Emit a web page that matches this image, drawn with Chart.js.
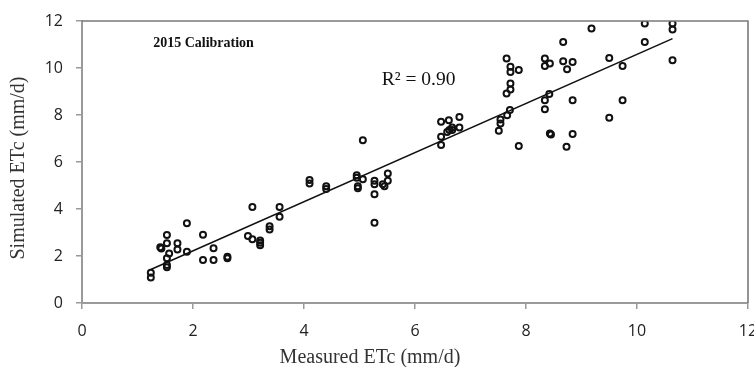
<!DOCTYPE html>
<html>
<head>
<meta charset="utf-8">
<script src="https://cdn.jsdelivr.net/npm/chart.js@4"></script>
<style>
  html, body { margin: 0; padding: 0; background: #fff; }
  #wrap { width: 754px; height: 367px; }
</style>
</head>
<body>
<div id="wrap"><canvas id="etc" width="754" height="367"></canvas></div>
<script>
// measured vs simulated ETc (mm/d)
var measured = [1.24,1.24,1.41,1.43,1.53,1.53,1.57,1.53,1.53,1.53,1.72,1.72,1.89,1.89,2.18,2.18,2.37,2.37,2.62,2.62,
  2.99,3.07,3.07,3.21,3.21,3.21,3.38,3.38,3.56,3.56,4.10,4.10,4.40,4.40,4.95,4.95,4.97,4.97,5.06,5.06,
  5.27,5.27,5.27,5.27,5.42,5.45,5.51,5.51,6.47,6.61,6.80,6.47,6.47,6.62,6.67,6.67,6.58,6.80,7.51,7.54,
  7.54,7.66,7.71,7.65,7.72,7.72,7.65,7.72,7.72,7.87,7.87,8.34,8.34,8.43,8.67,8.84,8.74,8.67,9.18,9.50,
  9.74,8.42,8.34,8.34,8.84,9.74,9.50,8.43,8.45,8.84,8.73,10.14,10.64,10.64,10.14,10.64];
var simulated = [1.29,1.09,2.37,2.32,2.89,2.54,2.11,1.90,1.62,1.52,2.54,2.28,3.39,2.18,2.90,1.83,2.33,1.83,1.97,1.90,
  2.85,2.71,4.09,2.66,2.56,2.46,3.27,3.13,4.09,3.67,5.23,5.09,4.97,4.85,5.44,5.33,4.97,4.88,6.93,5.27,
  5.20,5.05,4.63,3.41,5.05,4.97,5.51,5.20,7.71,7.78,7.92,7.07,6.72,7.36,7.47,7.36,7.28,7.47,7.33,7.64,
  7.81,7.99,8.21,8.92,9.09,9.34,10.40,10.05,9.83,9.91,6.68,10.40,10.09,10.19,10.29,10.26,9.95,11.11,11.68,10.43,
  10.09,8.89,8.63,8.25,8.63,8.63,7.88,7.21,7.17,7.19,6.65,11.89,11.89,11.64,11.11,10.33];
// trend line end points
var fitX = [1.24, 10.64];
var fitY = [1.43, 11.25];
var axisTicks = [0, 2, 4, 6, 8, 10, 12];

var points = measured.map(function(m, i) { return {x: m, y: simulated[i]}; });
var fitLine = fitX.map(function(v, i) { return {x: v, y: fitY[i]}; });

// frame + labels drawn on top of the chart
var extras = {
  id: 'extras',
  afterDraw: function(chart) {
    var c = chart.ctx, a = chart.chartArea, sx = chart.scales.x, sy = chart.scales.y;
    c.save();
    c.strokeStyle = '#7a7a7a';
    c.lineWidth = 1.6;
    c.beginPath();
    c.moveTo(a.left, a.top);
    c.lineTo(a.right, a.top);
    c.lineTo(a.right, a.bottom);
    c.stroke();

    c.fillStyle = '#111';
    c.font = 'bold 14px "Liberation Serif"';
    c.textAlign = 'center';
    c.textBaseline = 'middle';
    c.fillText('2015 Calibration', sx.getPixelForValue(2.19), sy.getPixelForValue(11.05));

    c.font = '19.5px "Liberation Serif"';
    c.textAlign = 'left';
    c.fillText('R\u00B2 = 0.90', sx.getPixelForValue(5.4), sy.getPixelForValue(9.48));

    c.fillStyle = '#333';
    c.font = '20px "Liberation Serif"';
    c.textAlign = 'center';
    c.fillText('Measured ETc (mm/d)', 370, 358);
    c.translate(19, 168);
    c.rotate(-Math.PI / 2);
    c.fillText('Simulated ETc (mm/d)', 0, 0);
    c.restore();
  }
};

var tickFont = { family: '"Open Sans"', size: 16 };

new Chart(document.getElementById('etc').getContext('2d'), {
  type: 'scatter',
  data: {
    datasets: [{
      label: 'ETc',
      data: points,
      backgroundColor: 'transparent',
      borderColor: '#111',
      borderWidth: 2,
      pointRadius: 3,
      pointStyle: 'circle'
    }, {
      type: 'line',
      label: 'fit',
      data: fitLine,
      borderColor: '#111',
      borderWidth: 1.6,
      pointRadius: 0,
      fill: false
    }]
  },
  options: {
    responsive: false,
    animation: false,
    layout: { padding: { top: 21, right: 6, left: 0, bottom: 0 } },
    plugins: { legend: { display: false }, tooltip: { enabled: false } },
    scales: {
      x: {
        type: 'linear', min: 0, max: 12,
        afterBuildTicks: function(s) { s.ticks = axisTicks.map(function(v) { return {value: v}; }); },
        afterFit: function(s) { s.height = 64; s.paddingLeft = 0; s.paddingRight = 0; },
        ticks: { font: tickFont, color: '#222', padding: 13, maxRotation: 0 },
        grid: { drawOnChartArea: false, tickLength: 6, color: '#999', lineWidth: 1.5 },
        border: { color: '#9a9a9a', width: 2 }
      },
      y: {
        type: 'linear', min: 0, max: 12,
        afterBuildTicks: function(s) { s.ticks = axisTicks.map(function(v) { return {value: v}; }); },
        afterFit: function(s) { s.width = 82; s.paddingTop = 0; s.paddingBottom = 0; },
        ticks: { font: tickFont, color: '#222', padding: 13 },
        grid: { drawOnChartArea: false, tickLength: 6, color: '#999', lineWidth: 1.5 },
        border: { color: '#9a9a9a', width: 2 }
      }
    }
  },
  plugins: [extras]
});
</script>
</body>
</html>
